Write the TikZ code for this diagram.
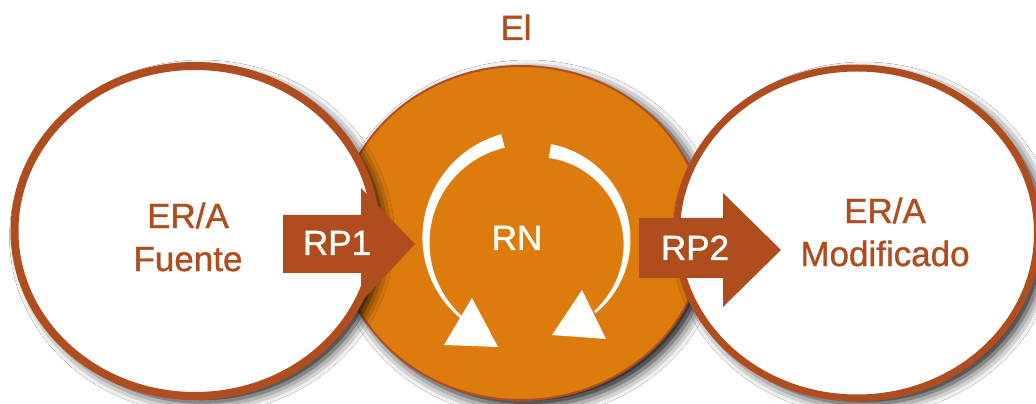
\documentclass[tikz,border=0pt]{standalone}
\usepackage{fontspec}
\setmainfont{Liberation Sans}[FakeBold=1]
\usetikzlibrary{shapes.geometric,shadows.blur}
\definecolor{rust}{HTML}{AF4D1F}
\definecolor{amber}{HTML}{DD7B0D}
\begin{document}
\begin{tikzpicture}[x=1pt,y=1pt,
  disc/.style={ellipse, inner sep=0pt, outer sep=0pt, minimum width=361pt, minimum height=330pt},
  softshadow/.style={blur shadow={shadow xshift=7pt, shadow yshift=-6pt, shadow blur radius=12pt, shadow opacity=95}},
  txt/.style={font=\fontsize{35}{43}\selectfont, inner sep=0pt},
  blockarrow/.style={fill=rust},
]
\useasboundingbox (0,0) rectangle (1036,404);
\fill[white] (0,0) rectangle (1036,404);

% the three stages
\node[disc, fill=amber, draw=rust, line width=2pt, softshadow,
      minimum width=366pt, minimum height=334pt] (core) at (521,171) {};
\node[disc, fill=white, draw=rust, line width=8pt, softshadow] (src) at (195,173) {};
\node[disc, fill=white, draw=rust, line width=7pt, softshadow] (dst) at (857,171) {};

% tapered circular arrows inside the core
\fill[white] plot[domain=104.3:229.6, samples=80]
  ({528.3+(102.3+(14-11.5*(\x-104.3)/125.3)/2)*cos(\x)},
   {163.9+(102.3+(14-11.5*(\x-104.3)/125.3)/2)*sin(\x)})
  -- plot[domain=229.6:104.3, samples=80]
  ({528.3+(102.3-(14-11.5*(\x-104.3)/125.3)/2)*cos(\x)},
   {163.9+(102.3-(14-11.5*(\x-104.3)/125.3)/2)*sin(\x)}) -- cycle;
\fill[white] (444,59) -- (498,57) -- (472,106) -- cycle;

\fill[white] plot[domain=80.5:-49.2, samples=80]
  ({534.7+(92.3+(14-11.5*(80.5-\x)/129.7)/2)*cos(\x)},
   {161.9+(92.3+(14-11.5*(80.5-\x)/129.7)/2)*sin(\x)})
  -- plot[domain=-49.2:80.5, samples=80]
  ({534.7+(92.3-(14-11.5*(80.5-\x)/129.7)/2)*cos(\x)},
   {161.9+(92.3-(14-11.5*(80.5-\x)/129.7)/2)*sin(\x)}) -- cycle;
\fill[white] (552,69) -- (606,65) -- (582,114) -- cycle;

% block arrows between the stages
\fill[blockarrow] (283,131) -- (283,189) -- (361,189) -- (361,216)
  -- (415,160) -- (361,102) -- (361,131) -- cycle;
\fill[blockarrow] (639,126) -- (639,186) -- (723,186) -- (723,211)
  -- (781,154) -- (723,97) -- (723,126) -- cycle;

% labels
\node[txt, text=rust, anchor=base] (tEl) at (516,364) {El};
\node[txt, text=rust, align=center] (tsrc) at (188,167) {ER/A\\Fuente};
\node[txt, text=rust, align=center] (tdst) at (885,172) {ER/A\\Modificado};
\node[txt, text=white, anchor=base] (tRN) at (517,154) {RN};
\node[txt, text=white, anchor=base] (tRP1) at (337,149) {RP1};
\node[txt, text=white, anchor=base] (tRP2) at (695,144) {RP2};
\end{tikzpicture}
\end{document}
